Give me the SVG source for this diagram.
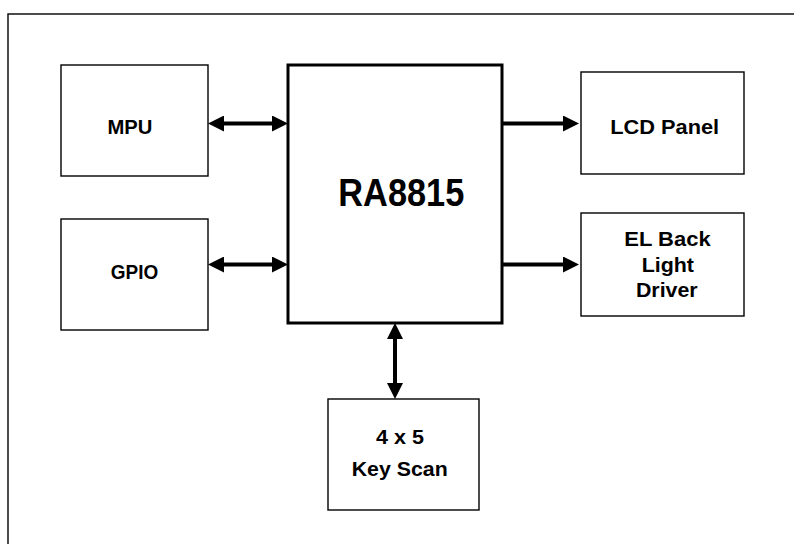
<svg xmlns="http://www.w3.org/2000/svg" width="794" height="544" viewBox="0 0 794 544">
<defs>
<style>
.box{fill:#fff;stroke:#000;stroke-width:1.4}
.main{fill:#fff;stroke:#000;stroke-width:3}
.lbl{font-family:"Liberation Sans",Arial,sans-serif;font-weight:bold;font-size:19.5px;fill:#000;text-anchor:middle}
.big{font-family:"Liberation Sans",Arial,sans-serif;font-weight:bold;font-size:38px;fill:#000;text-anchor:middle}
.conn{stroke:#000;stroke-width:4;fill:none}
</style>
<marker id="ah" viewBox="0 0 16 16" markerWidth="16" markerHeight="16" refX="8" refY="8" orient="auto-start-reverse" markerUnits="userSpaceOnUse">
<path d="M0,0 L16,8 L0,16 z" fill="#000"/>
</marker>
</defs>
<rect x="0" y="0" width="794" height="544" fill="#fff"/>
<rect x="8" y="14" width="800" height="560" fill="none" stroke="#000" stroke-width="1.4"/>

<g id="connectors">
<line class="conn" x1="216" y1="123.5" x2="280" y2="123.5" marker-start="url(#ah)" marker-end="url(#ah)"/>
<line class="conn" x1="216" y1="264.5" x2="280" y2="264.5" marker-start="url(#ah)" marker-end="url(#ah)"/>
<line class="conn" x1="502" y1="123.5" x2="571" y2="123.5" marker-end="url(#ah)"/>
<line class="conn" x1="502" y1="264.5" x2="571" y2="264.5" marker-end="url(#ah)"/>
<line class="conn" x1="395" y1="331" x2="395" y2="391" marker-start="url(#ah)" marker-end="url(#ah)"/>
</g>

<g id="mpu">
<rect class="box" x="61" y="65" width="147" height="111"/>
<text class="lbl" x="130" y="134.3" textLength="45" lengthAdjust="spacingAndGlyphs">MPU</text>
</g>
<g id="gpio">
<rect class="box" x="61" y="219" width="147" height="111"/>
<text class="lbl" x="134.5" y="279" textLength="47.5" lengthAdjust="spacingAndGlyphs">GPIO</text>
</g>
<g id="ra8815">
<rect class="main" x="288" y="65" width="214" height="258"/>
<text class="big" x="401.3" y="206" textLength="126" lengthAdjust="spacingAndGlyphs">RA8815</text>
</g>
<g id="lcd">
<rect class="box" x="581" y="72" width="163" height="102"/>
<text class="lbl" x="664.7" y="134.3" textLength="109" lengthAdjust="spacingAndGlyphs">LCD Panel</text>
</g>
<g id="el">
<rect class="box" x="581" y="213" width="163" height="103"/>
<text class="lbl" x="667.5" y="246.3" textLength="86.4" lengthAdjust="spacingAndGlyphs">EL Back</text>
<text class="lbl" x="667.8" y="271.7" textLength="52.3" lengthAdjust="spacingAndGlyphs">Light</text>
<text class="lbl" x="666.8" y="297.3" textLength="61.7" lengthAdjust="spacingAndGlyphs">Driver</text>
</g>
<g id="keyscan">
<rect class="box" x="328" y="399" width="151" height="111"/>
<text class="lbl" x="400" y="444" textLength="48" lengthAdjust="spacingAndGlyphs">4 x 5</text>
<text class="lbl" x="399.7" y="476" textLength="96" lengthAdjust="spacingAndGlyphs">Key Scan</text>
</g>
</svg>
